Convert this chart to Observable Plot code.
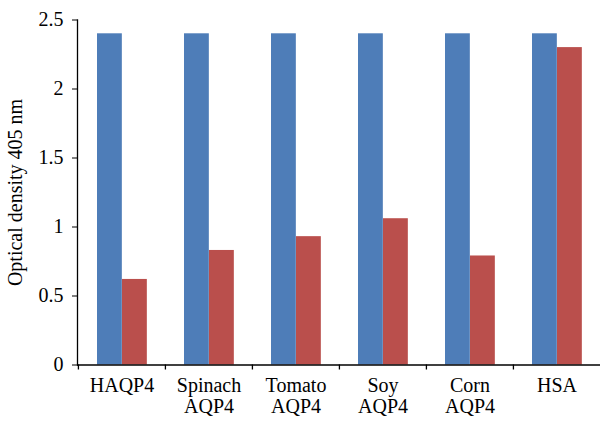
<!DOCTYPE html>
<html>
<head>
<meta charset="utf-8">
<script src="https://cdn.jsdelivr.net/npm/d3@7"></script>
<script src="https://cdn.jsdelivr.net/npm/@observablehq/plot@0.6"></script>
<style>
  html, body { margin: 0; padding: 0; background: #fff; overflow: hidden; }
</style>
</head>
<body>
<div id="chart"></div>
<script>
const categories = ["HAQP4", "Spinach\nAQP4", "Tomato\nAQP4", "Soy\nAQP4", "Corn\nAQP4", "HSA"];
const blueValues = [2.4, 2.4, 2.4, 2.4, 2.4, 2.4];
const redValues = [0.62, 0.83, 0.93, 1.06, 0.79, 2.3];
const yTicks = [0, 0.5, 1, 1.5, 2, 2.5];
const yTickLabels = ["0", "0.5", "1", "1.5", "2", "2.5"];
const yLabel = "Optical density 405 nm";

const rows = categories.map((c, i) => ({category: c, blue: blueValues[i], red: redValues[i]}));

const W = 600, H = 421;
const mL = 77, mR = 0, mT = 19.5, mB = 56.5;
const band = (W - mL - mR) / categories.length;
const barW = 25, lead = 19;

const chart = Plot.plot({
  width: W,
  height: H,
  marginLeft: mL,
  marginRight: mR,
  marginTop: mT,
  marginBottom: mB,
  style: {fontFamily: "'Liberation Serif', 'DejaVu Serif', serif", fontSize: "20px", color: "#000", background: "#fff"},
  x: {domain: categories, padding: 0, axis: null},
  y: {domain: [0, 2.5], axis: null},
  marks: [
    Plot.barY(rows, {x: "category", y: "blue", fill: "#4E7DB8", insetLeft: lead, insetRight: band - lead - barW}),
    Plot.barY(rows, {x: "category", y: "red", fill: "#BA4F4C", insetLeft: lead + barW, insetRight: band - lead - 2 * barW}),
    Plot.ruleY([0], {stroke: "#000", strokeWidth: 1.3}),
    Plot.frame({anchor: "left", stroke: "#000", strokeWidth: 1.3}),
    Plot.ruleX(categories, {x: d => d, y1: 0, y2: 0, dx: -band / 2, insetBottom: -5, stroke: "#000", strokeWidth: 1.3}),
    Plot.axisY({
      ticks: yTicks,
      tickFormat: (d) => yTickLabels[yTicks.indexOf(d)],
      tickSize: 5,
      tickPadding: 9,
      fontSize: 20,
      label: yLabel,
      labelAnchor: "center",
      labelArrow: "none",
      labelOffset: 70,
      stroke: "#000"
    }),
    Plot.axisX({
      tickSize: 0,
      tickPadding: 12,
      fontSize: 20,
      lineHeight: 1.05,
      label: null
    })
  ]
});
document.getElementById("chart").appendChild(chart);
</script>
</body>
</html>
